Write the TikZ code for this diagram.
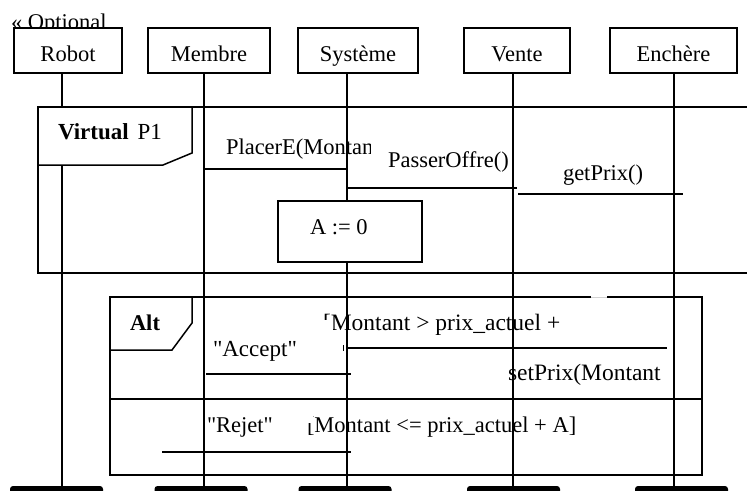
\documentclass[tikz,border=0pt]{standalone}
\usepackage{fontspec}
\setmainfont{Liberation Serif}
\newcommand\myfs[1]{\fontsize{#1}{#1}\selectfont}
\begin{document}
\begin{tikzpicture}[x=1pt,y=-1pt,
  every node/.style={font=\myfs{22.5}, inner sep=0pt, outer sep=0pt},
  hdr/.style={draw, line width=1.6pt, fill=white, minimum height=45pt, text height=24pt, text depth=3pt},
  life/.style={line width=1.6pt},
  frm/.style={line width=1.5pt},
  msg/.style={line width=1.8pt},
  lbl/.style={anchor=base west},
  endbar/.style={fill=black, rounded corners=3pt, minimum width=93pt, minimum height=10pt, anchor=north}]
\useasboundingbox (0,0) rectangle (747,490);
\clip (0,0) rectangle (747,490);

% stereotype text (partly hidden by header)
\node[lbl] (opt) at (11,29) {« Optional};

% Virtual frame
\draw[frm] (749,107) -- (38,107) -- (38,273) -- (749,273);

% Alt frame
\draw[frm] (591,297) -- (110,297) -- (110,475) -- (702,475) -- (702,297) -- (607,297);
\draw[gray!35, line width=0.8pt] (591,297) -- (607,297);
\draw[frm] (110,399) -- (702,399);

% texts
\begin{scope}
  \clip (0,0) rectangle (370,490);
  \node[lbl] (placer) at (226,154) {PlacerE(Montant)};
\end{scope}
\node[lbl] (passer) at (388,167) {PasserOffre()};
\node[lbl] (getprix) at (563,180) {getPrix()};
\node[lbl, font=\myfs{23.5}] (guard1) at (323,330) {[Montant > prix\_actuel +};
\fill[white] (321,320) rectangle (333,337);
\node[lbl, font=\myfs{23}] (accept) at (213,356) {\textquotedbl Accept\textquotedbl};
\node[lbl, font=\myfs{23.5}] (setprix) at (508,380) {setPrix(Montant};
\node[lbl] (rejet) at (207,432) {\textquotedbl Rejet\textquotedbl};
\node[lbl] (guard2) at (307,432) {[Montant <= prix\_actuel + A]};
\fill[white] (305,409) rectangle (312.5,423);

% message line end points
\coordinate (m1a) at (205,169); \coordinate (m1b) at (348,169);
\coordinate (m2a) at (347,188); \coordinate (m2b) at (517,188);
\coordinate (m3a) at (518,194); \coordinate (m3b) at (683,194);
\coordinate (m4a) at (348,348); \coordinate (m4b) at (667,348);
\coordinate (m5a) at (206,374); \coordinate (m5b) at (351,374);
\coordinate (m6a) at (162,452); \coordinate (m6m) at (288,452); \coordinate (m6b) at (351,452);
\coordinate (tka) at (343,345); \coordinate (tkb) at (343,351);

\draw[msg] (m1a) -- (m1b);
\draw[msg] (m2a) -- (m2b);
\draw[msg] (m3a) -- (m3b);
\draw[msg] (m4a) -- (m4b);
\draw[msg] (m5a) -- (m5b);
\draw[msg] (m6a) -- (m6m);
\draw[line width=1.1pt] (m6m) -- (m6b);
\draw[line width=0.9pt] (tka) -- (tkb);

% bottom bars
\node[endbar] (robotend) at (56.5,486) {};
\node[endbar] (membreend) at (201,486) {};
\node[endbar] (systemeend) at (345,486) {};
\node[endbar] (venteend) at (513.5,486) {};
\node[endbar] (enchereend) at (681.5,486) {};

% lifelines
\coordinate (lr) at (62,73);  \coordinate (lrb) at (62,487);
\coordinate (lm) at (204,73); \coordinate (lmb) at (204,487);
\coordinate (ls) at (347,73); \coordinate (lsb) at (347,487);
\coordinate (lv) at (513,73); \coordinate (lvb) at (513,487);
\coordinate (le) at (674,73); \coordinate (leb) at (674,487);
\draw[life] (lr) -- (lrb);
\draw[life] (lm) -- (lmb);
\draw[life] (ls) -- (lsb);
\draw[life] (lv) -- (lvb);
\draw[life] (le) -- (leb);

% frame labels
\draw[frm, fill=white] (38,107) -- (192,107) -- (192,153) -- (163,165) -- (38,165) -- cycle;
\node[lbl, font=\myfs{23}] (vlabel) at (58,139) {\textbf{Virtual}\hspace{9pt}P1};
\draw[frm, fill=white] (110,297) -- (192,297) -- (192,323) -- (172,350) -- (110,350) -- cycle;
\node[lbl, font=\myfs{22.5}\bfseries] (altlabel) at (130,330) {Alt};

% assignment box
\node[draw, line width=1.6pt, fill=white, minimum width=144pt, minimum height=61pt] (abox) at (350,231.5) {};
\node[lbl] (atext) at (310,234) {A := 0};

% headers
\node[hdr, minimum width=108pt] (robot) at (68,50.5) {Robot};
\node[hdr, minimum width=122pt] (membre) at (209,50.5) {Membre};
\node[hdr, minimum width=120pt] (systeme) at (358,50.5) {Système};
\node[hdr, minimum width=106pt] (vente) at (517,50.5) {Vente};
\node[hdr, minimum width=127pt] (enchere) at (673.5,50.5) {Enchère};
\end{tikzpicture}
\end{document}
